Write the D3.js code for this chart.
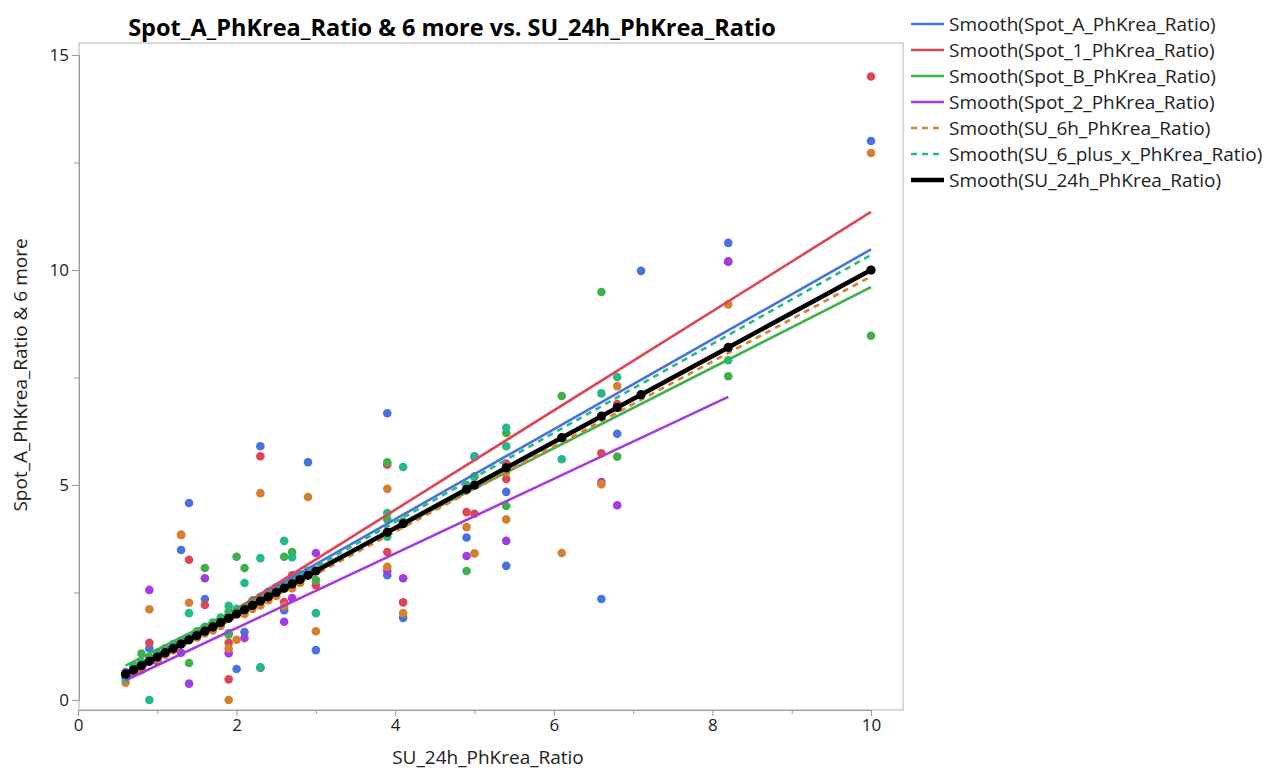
<!DOCTYPE html>
<html>
<head>
<meta charset="utf-8">
<script src="https://cdn.jsdelivr.net/npm/d3@7/dist/d3.min.js"></script>
<style>
  body { margin: 0; background: #fff; }
  svg { display: block; font-family: "Open Sans", "Noto Sans", sans-serif; }
</style>
</head>
<body>
<svg id="chart" width="1269" height="772"></svg>
<script>
// X values (SU_24h_PhKrea_Ratio), one per row
const xs = [0.6, 0.7, 0.8, 0.9, 1.0, 1.1, 1.2, 1.3, 1.4, 1.5,
            1.6, 1.7, 1.8, 1.9, 1.9, 2.0, 2.1, 2.2, 2.3, 2.3,
            2.4, 2.5, 2.6, 2.7, 2.8, 2.9, 3.0, 3.9, 3.9, 4.1,
            4.9, 5.0, 5.4, 5.4, 6.1, 6.6, 6.8, 7.1, 8.2, 10];

// Y columns, aligned with xs (null = missing)
const spotA = [0.65, 0.72, 0.85, 1.2, 1.0, null, null, 3.49, 4.58, null,
               2.35, null, null, 1.55, null, 0.72, 1.58, null, 5.9, null,
               null, null, 2.09, 2.8, null, 5.53, 1.16, 6.67, 2.9, 1.91,
               3.78, 5.67, 4.84, 3.12, null, 2.35, 6.19, 9.98, 10.63, 13.0];
const spot1 = [0.62, 0.7, 0.8, 1.33, 1.02, 1.15, null, 3.84, 3.26, null,
               2.21, null, null, 1.33, 0.48, 2.05, 2.15, null, 5.67, null,
               2.5, 2.6, 2.28, 2.9, null, 3.0, 2.67, 5.47, 3.44, 2.27,
               4.37, 4.33, 5.5, 5.14, null, 5.74, 6.88, null, 10.2, 14.5];
const spotB = [0.58, 0.8, 1.08, 1.0, 1.1, 1.2, 1.28, 1.35, 0.86, 1.55,
               3.07, 1.75, 1.85, 1.52, 2.05, 3.33, 3.07, 2.25, 2.4, 2.35,
               2.45, null, 3.33, 3.44, null, 2.95, 2.79, 5.53, 4.2, 4.15,
               3.0, 5.2, 6.21, 4.51, 7.07, 9.49, 5.66, null, 7.53, 8.47];
const spot2 = [0.55, null, 0.7, 2.56, 0.9, null, null, 1.1, 0.38, null,
               2.83, null, null, 1.09, null, null, 1.44, null, 0.75, null,
               null, null, 1.82, 2.37, null, null, 3.42, 3.0, null, 2.83,
               3.35, null, 3.7, null, null, 5.07, 4.53, null, 10.19, null];
const su6h  = [0.4, 0.65, 0.7, 2.11, 0.95, 1.05, 1.15, 3.84, 2.26, 1.45,
               1.55, 1.62, 1.72, 1.2, 0.0, 1.4, 2.0, 2.12, 4.81, 2.2,
               2.32, 2.42, 2.18, 2.6, 2.72, 4.72, 1.6, 4.91, 3.1, 2.02,
               4.02, 3.41, 4.2, 5.3, 3.42, 5.02, 7.3, null, 9.2, 12.72];
const su6px = [0.5, 0.75, 0.88, 0.0, 1.05, 1.18, 1.3, 1.38, 2.02, 1.6,
               1.7, 1.8, 1.92, 2.19, 1.97, 2.12, 2.72, 2.32, 3.3, 0.76,
               2.52, 2.62, 3.7, 3.32, 2.92, 3.0, 2.02, 4.35, 3.8, 5.42,
               5.0, 5.65, 6.33, 5.9, 5.6, 7.13, 7.51, null, 7.9, 10.0];

// Legend names and colours
const seriesNames = ["Smooth(Spot_A_PhKrea_Ratio)", "Smooth(Spot_1_PhKrea_Ratio)",
                     "Smooth(Spot_B_PhKrea_Ratio)", "Smooth(Spot_2_PhKrea_Ratio)",
                     "Smooth(SU_6h_PhKrea_Ratio)", "Smooth(SU_6_plus_x_PhKrea_Ratio)",
                     "Smooth(SU_24h_PhKrea_Ratio)"];
const seriesColors = ["#4873dc", "#dc4656", "#3eb14c", "#a43be2", "#d4802e", "#25b98a", "#000000"];
const seriesDashed = [false, false, false, false, true, true, false];

// Smoother end values for each coloured series (start at x = 0.6)
const fitStartX = [0.6, 0.6, 0.6, 0.6, 0.6, 0.6];
const fitEndX   = [10, 10, 10, 8.2, 10, 10];
const fitStartY = [0.65, 0.5, 0.8, 0.46, 0.55, 0.62];
const fitEndY   = [10.48, 11.35, 9.6, 7.05, 9.85, 10.35];

const xTicks = [0, 2, 4, 6, 8, 10];
const xMinor = [1, 3, 5, 7, 9];
const yTicks = [0, 5, 10, 15];
const yMinor = [2.5, 7.5, 12.5];

const svg = d3.select("#chart");
const frame = { left: 79, right: 903, top: 43, bottom: 710 };

const x = d3.scaleLinear().domain([0, 10]).range([78, 871]);
const y = d3.scaleLinear().domain([0, 15]).range([700, 55]);

// Title
svg.append("text")
  .attr("x", 452).attr("y", 36)
  .attr("text-anchor", "middle")
  .attr("font-size", 23.5).attr("font-weight", "bold")
  .attr("fill", "#000")
  .text("Spot_A_PhKrea_Ratio & 6 more vs. SU_24h_PhKrea_Ratio");

// Frame
svg.append("rect")
  .attr("x", frame.left).attr("y", frame.top)
  .attr("width", frame.right - frame.left).attr("height", frame.bottom - frame.top)
  .attr("fill", "none").attr("stroke", "#b4b4b4").attr("stroke-width", 1);

// X axis
svg.append("g").attr("transform", `translate(0,${frame.bottom})`)
  .call(d3.axisBottom(x).tickValues(xTicks).tickSize(6).tickFormat(d3.format("d")));
svg.append("g").attr("transform", `translate(0,${frame.bottom})`)
  .call(d3.axisBottom(x).tickValues(xMinor).tickSize(4).tickFormat(""))
  .call(g => g.select(".domain").remove());

// Y axis
svg.append("g").attr("transform", `translate(${frame.left},0)`)
  .call(d3.axisLeft(y).tickValues(yTicks).tickSize(7).tickFormat(d3.format("d")));
svg.append("g").attr("transform", `translate(${frame.left},0)`)
  .call(d3.axisLeft(y).tickValues(yMinor).tickSize(5).tickFormat(""))
  .call(g => g.select(".domain").remove());

svg.selectAll(".domain").attr("stroke", "#9a9a9a");
svg.selectAll(".tick line").attr("stroke", "#9a9a9a");
svg.selectAll(".tick text")
  .attr("font-size", 17).attr("fill", "#222")
  .attr("font-family", "'Open Sans', sans-serif");

// Axis titles
svg.append("text")
  .attr("x", 488).attr("y", 764)
  .attr("text-anchor", "middle").attr("font-size", 19).attr("fill", "#222")
  .text("SU_24h_PhKrea_Ratio");
svg.append("text")
  .attr("transform", "translate(27,375) rotate(-90)")
  .attr("text-anchor", "middle").attr("font-size", 19).attr("fill", "#222")
  .text("Spot_A_PhKrea_Ratio & 6 more");

// Points
const cols = [spotA, spot1, spotB, spot2, su6h, su6px];
const plot = svg.append("g");
cols.forEach((col, i) => {
  const pts = xs.map((xv, k) => ({ x: xv, y: col[k] })).filter(d => d.y != null);
  plot.append("g").selectAll("circle").data(pts).join("circle")
    .attr("cx", d => x(d.x)).attr("cy", d => y(d.y)).attr("r", 4.3)
    .attr("fill", seriesColors[i]);
});

// Smoother lines
const line = d3.line().x(d => x(d[0])).y(d => y(d[1]));
cols.forEach((col, i) => {
  plot.append("path")
    .datum([[fitStartX[i], fitStartY[i]], [fitEndX[i], fitEndY[i]]])
    .attr("d", line)
    .attr("fill", "none")
    .attr("stroke", seriesColors[i])
    .attr("stroke-width", 2.6)
    .attr("stroke-dasharray", seriesDashed[i] ? "6,5" : null);
});

// SU_24h against itself: points and smoother on the identity
const selfPts = Array.from(new Set(xs)).map(v => [v, v]);
plot.append("path").datum(selfPts).attr("d", line)
  .attr("fill", "none").attr("stroke", "#000").attr("stroke-width", 4.5);
plot.append("g").selectAll("circle").data(selfPts).join("circle")
  .attr("cx", d => x(d[0])).attr("cy", d => y(d[1])).attr("r", 4.6).attr("fill", "#000");

// Legend
const legend = svg.append("g");
seriesNames.forEach((name, i) => {
  const ly = 24 + i * 26;
  legend.append("line")
    .attr("x1", 911).attr("x2", 944).attr("y1", ly).attr("y2", ly)
    .attr("stroke", seriesColors[i])
    .attr("stroke-width", i === 6 ? 4.5 : 2.6)
    .attr("stroke-dasharray", seriesDashed[i] ? "6,5" : null);
  legend.append("text")
    .attr("x", 949).attr("y", ly + 6.5)
    .attr("font-size", 19).attr("fill", "#222")
    .text(name);
});
</script>
</body>
</html>
